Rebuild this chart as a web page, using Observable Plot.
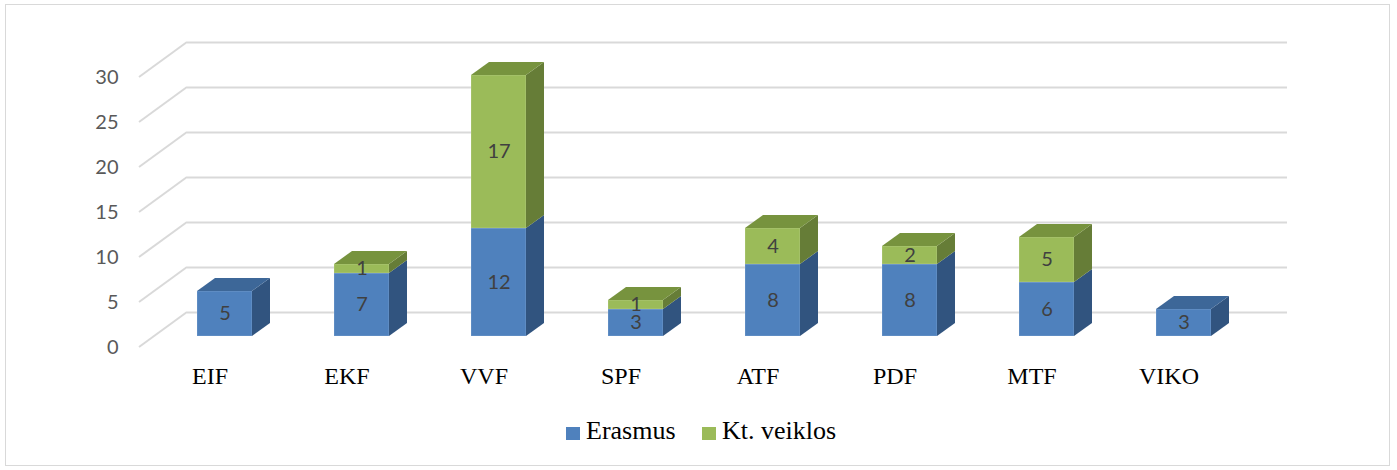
<!DOCTYPE html>
<html><head><meta charset="utf-8">
<script src="https://cdn.jsdelivr.net/npm/d3@7"></script>
<script src="https://cdn.jsdelivr.net/npm/@observablehq/plot@0.6"></script>
<style>
body{margin:0;background:#fff;}
#wrap{position:relative;width:1397px;height:470px;overflow:hidden;background:#fff;}
#frame{position:absolute;left:5px;top:4px;width:1385px;height:462px;border:1px solid #d9d9d9;box-sizing:border-box;}
#chart{position:absolute;left:0;top:0;}
.lg{position:absolute;top:418px;font-family:"Liberation Serif","Times New Roman",serif;font-size:26px;line-height:26px;color:#000;white-space:nowrap;}
.sw{position:absolute;top:427px;width:14px;height:13px;}
</style></head>
<body><div id="wrap"><div id="frame"></div><div id="chart"></div><div id="legend"></div></div>
<script>
// ---- data ----
const categories = ["EIF", "EKF", "VVF", "SPF", "ATF", "PDF", "MTF", "VIKO"];
const erasmus = [5, 7, 12, 3, 8, 8, 6, 3];
const ktVeiklos = [0, 1, 17, 1, 4, 2, 5, 0];
const seriesNames = ["Erasmus", "Kt. veiklos"];
const yTicks = [0, 5, 10, 15, 20, 25, 30];

// ---- styles ----
const frontColors = ["#4F81BD", "#9BBB59"];
const sideColors = ["#31547F", "#667D37"];
const topColors = ["#3D6798", "#77933E"];
const DEPTH = {dx: 48, dy: -35};   // floor depth (front plane -> back wall)
const FACE = {dx: 15, dy: -11};    // bar front face offset from front plane
const SIDE = {dx: 18, dy: -13};    // bar depth

// build stacked rows
const seriesValues = [erasmus, ktVeiklos];
const rows = [];
categories.forEach((c, i) => {
  let base = 0;
  seriesValues.forEach((vals, s) => {
    const v = vals[i];
    if (v > 0) {
      rows.push({cat: c, series: seriesNames[s], s, value: v, y0: base, y1: base + v, mid: base + v / 2});
    }
    base += v;
  });
});

const W = 1397, H = 410;
const marginLeft = 139, marginRight = 158, marginTop = 77, marginBottom = 63;

function diagonals(index, scales, values, dims) {
  const y = scales.y;
  const g = d3.create("svg:g").attr("stroke", "#d9d9d9").attr("stroke-width", 2).attr("fill", "none");
  for (const t of yTicks) {
    const yy = y(t);
    g.append("line")
      .attr("x1", dims.marginLeft).attr("y1", yy)
      .attr("x2", dims.marginLeft + DEPTH.dx).attr("y2", yy + DEPTH.dy);
  }
  return g.node();
}

function sidesAndTops(index, scales) {
  const x = scales.x, y = scales.y;
  const bw = x.bandwidth();
  const g = d3.create("svg:g");
  for (const c of categories) {
    const segs = rows.filter(r => r.cat === c).sort((a, b) => a.y0 - b.y0);
    const xl = x(c) + FACE.dx, xr = xl + bw;
    segs.forEach((r, k) => {
      const yb = y(r.y0) + FACE.dy, yt = y(r.y1) + FACE.dy;
      g.append("polygon")
        .attr("points", [[xr, yb], [xr + SIDE.dx, yb + SIDE.dy], [xr + SIDE.dx, yt + SIDE.dy], [xr, yt]].map(p => p.join(",")).join(" "))
        .attr("fill", sideColors[r.s]);
      if (k === segs.length - 1) {
        g.append("polygon")
          .attr("points", [[xl, yt], [xr, yt], [xr + SIDE.dx, yt + SIDE.dy], [xl + SIDE.dx, yt + SIDE.dy]].map(p => p.join(",")).join(" "))
          .attr("fill", topColors[r.s]);
      }
    });
  }
  return g.node();
}

const chart = Plot.plot({
  width: W, height: H,
  marginLeft, marginRight, marginTop, marginBottom,
  style: {background: "transparent", overflow: "visible"},
  x: {domain: categories, paddingInner: 0.6, paddingOuter: 0.3, align: 0.5},
  y: {domain: [0, 30]},
  color: {domain: seriesNames, range: frontColors},
  marks: [
    Plot.ruleY(yTicks, {stroke: "#d9d9d9", strokeWidth: 2, dx: DEPTH.dx, dy: DEPTH.dy}),
    diagonals,
    Plot.barY(rows, {x: "cat", y1: "y0", y2: "y1", fill: "series", inset: 0, dx: FACE.dx, dy: FACE.dy,
      stroke: "#ffffff", strokeOpacity: 0.18, strokeWidth: 1}),
    sidesAndTops,
    Plot.text(rows, {x: "cat", y: "mid", text: "value", dx: FACE.dx, dy: FACE.dy,
      fill: "#404040", fontSize: 20, fontFamily: "Lato, 'Open Sans', sans-serif"}),
    Plot.axisY(yTicks, {tickSize: 0, tickPadding: 21, fontSize: 20, fontFamily: "Lato, 'Open Sans', sans-serif", color: "#595959", label: null}),
    Plot.axisX({tickSize: 0, tickPadding: 19, fontSize: 24, fontFamily: "'Liberation Serif', 'Times New Roman', serif", color: "#000", label: null})
  ]
});
document.getElementById("chart").appendChild(chart);

// legend (HTML)
const legend = document.getElementById("legend");
const legendPos = [{sw: 566, tx: 586}, {sw: 702, tx: 722}];
seriesNames.forEach((name, i) => {
  const sw = document.createElement("div");
  sw.className = "sw"; sw.style.left = legendPos[i].sw + "px"; sw.style.background = frontColors[i];
  legend.appendChild(sw);
  const tx = document.createElement("div");
  tx.className = "lg"; tx.style.left = legendPos[i].tx + "px"; tx.textContent = name;
  legend.appendChild(tx);
});
</script>
</body></html>
